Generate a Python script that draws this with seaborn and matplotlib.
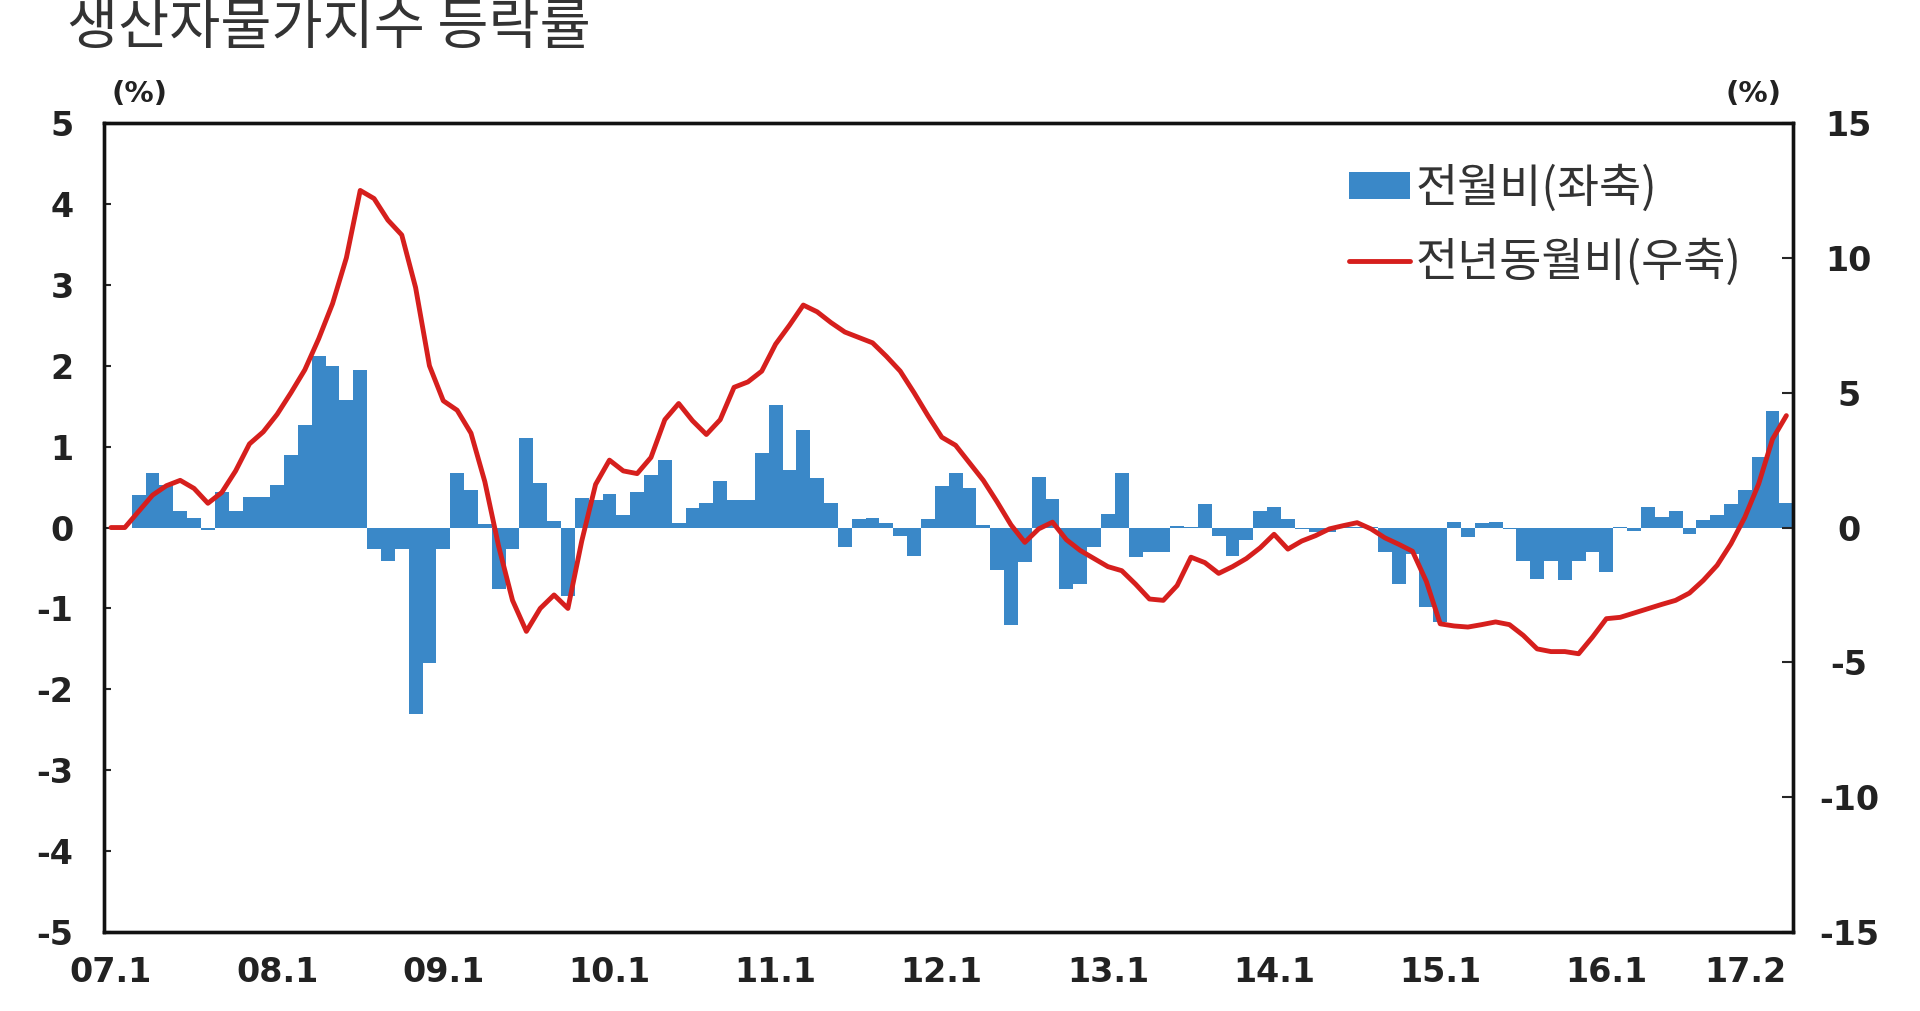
import numpy as np
import pandas as pd
import matplotlib
matplotlib.use("Agg")
import matplotlib.pyplot as plt
import seaborn as sns
from matplotlib.patches import Patch
from matplotlib.lines import Line2D

# ---------------- data ----------------
years = list(range(2007, 2018))
month_labels = [f"{y % 100:02d}.{m}" for y in years for m in range(1, 13)][:122]

mom = [  # 전월비 (%), left axis
    # 2007
    0.0, 0.0, 0.40, 0.67, 0.53, 0.20, 0.12, -0.03, 0.44, 0.20, 0.38, 0.38,
    # 2008
    0.53, 0.90, 1.27, 2.12, 2.00, 1.58, 1.95, -0.27, -0.41, -0.27, -2.30, -1.68,
    # 2009
    -0.27, 0.68, 0.47, 0.04, -0.76, -0.27, 1.11, 0.55, 0.08, -0.85, 0.36, 0.34,
    # 2010
    0.42, 0.16, 0.44, 0.65, 0.84, 0.05, 0.24, 0.30, 0.57, 0.34, 0.34, 0.92,
    # 2011
    1.51, 0.71, 1.20, 0.61, 0.30, -0.24, 0.10, 0.12, 0.06, -0.10, -0.35, 0.10,
    # 2012
    0.51, 0.68, 0.49, 0.03, -0.53, -1.21, -0.43, 0.62, 0.35, -0.76, -0.70, -0.24,
    # 2013
    0.17, 0.68, -0.37, -0.30, -0.30, 0.02, 0.01, 0.29, -0.10, -0.35, -0.16, 0.21,
    # 2014
    0.25, 0.10, -0.02, -0.05, -0.05, 0.01, 0.01, 0.01, -0.30, -0.70, -0.33, -0.98,
    # 2015
    -1.17, 0.07, -0.12, 0.05, 0.07, -0.02, -0.41, -0.63, -0.41, -0.65, -0.41, -0.30,
    # 2016
    -0.55, 0.01, -0.04, 0.25, 0.13, 0.21, -0.08, 0.09, 0.15, 0.29, 0.46, 0.87,
    # 2017
    1.44, 0.30,
]

yoy = [  # 전년동월비 (%), right axis
    # 2007
    0.0, 0.0, 0.60, 1.20, 1.55, 1.75, 1.45, 0.90, 1.30, 2.10, 3.10, 3.55,
    # 2008
    4.20, 5.00, 5.85, 7.00, 8.30, 10.00, 12.50, 12.20, 11.40, 10.85, 8.90, 6.00,
    # 2009
    4.70, 4.35, 3.50, 1.70, -0.70, -2.70, -3.85, -3.00, -2.50, -3.00, -0.50, 1.60,
    # 2010
    2.50, 2.10, 2.00, 2.60, 4.00, 4.60, 3.96, 3.45, 4.00, 5.20, 5.40, 5.80,
    # 2011
    6.80, 7.50, 8.25, 8.00, 7.60, 7.25, 7.05, 6.85, 6.35, 5.80, 5.00, 4.15,
    # 2012
    3.35, 3.05, 2.40, 1.75, 0.95, 0.10, -0.55, -0.05, 0.20, -0.45, -0.85, -1.15,
    # 2013
    -1.45, -1.60, -2.10, -2.65, -2.70, -2.15, -1.10, -1.30, -1.70, -1.45, -1.15, -0.75,
    # 2014
    -0.25, -0.80, -0.50, -0.30, -0.05, 0.07, 0.18, -0.05, -0.38, -0.62, -0.88, -2.00,
    # 2015
    -3.57, -3.65, -3.69, -3.60, -3.50, -3.60, -4.00, -4.50, -4.60, -4.60, -4.68, -4.06,
    # 2016
    -3.38, -3.33, -3.17, -3.01, -2.85, -2.70, -2.43, -1.96, -1.40, -0.60, 0.38, 1.62,
    # 2017
    3.28, 4.15,
]

xtick_labels = ["07.1", "08.1", "09.1", "10.1", "11.1", "12.1",
                "13.1", "14.1", "15.1", "16.1", "17.2"]
left_ticks = list(range(-5, 6))
right_ticks = list(range(-15, 16, 5))

title_text = "생산자물가지수 등락률"
legend_labels = ["전월비(좌축)", "전년동월비(우축)"]

# ---------------- style ----------------
BAR_C = "#3a88c8"
LINE_C = "#d61f1d"
KR = ["Noto Sans CJK KR", "DejaVu Sans"]

sns.set_theme(style="white")
plt.rcParams["font.family"] = ["DejaVu Sans", "Noto Sans CJK KR"]
plt.rcParams["axes.unicode_minus"] = False

df = pd.DataFrame({"month": month_labels, "mom": mom, "yoy": yoy})
df["pos"] = np.arange(len(df))

fig = plt.figure(figsize=(19.2, 10.11), dpi=100)
fig.subplots_adjust(left=0.0542, right=0.934, top=0.8783, bottom=0.0781)
ax = fig.add_subplot(111)

sns.barplot(data=df, x="month", y="mom", order=month_labels, color=BAR_C,
            width=1.0, linewidth=0, saturation=1, ax=ax)
ax.set_xlim(-0.5, len(df) - 0.5)
ax.set_ylim(-5, 5)

ax2 = ax.twinx()
sns.lineplot(data=df, x="pos", y="yoy", color=LINE_C, linewidth=3.5, ax=ax2)
ax2.set_ylim(-15, 15)
ax2.set_xlim(-0.5, len(df) - 0.5)

# ticks
tick_pos = [month_labels.index(l) for l in xtick_labels]
ax.set_xticks(tick_pos)
ax.set_xticklabels(xtick_labels)
for lab in ax.get_xticklabels():
    lab.set_fontweight("bold")
    lab.set_fontsize(24)
    lab.set_color("#222222")
ax.get_xticklabels()[-1].set_horizontalalignment("right")
ax.tick_params(axis="x", length=0, pad=17)

ax.set_yticks(left_ticks)
ax.set_yticklabels([str(v) for v in left_ticks])
ax.tick_params(axis="y", direction="in", length=5, width=1.5, pad=22,
               labelsize=24, left=True, labelcolor="#222222")
for lab in ax.get_yticklabels():
    lab.set_fontweight("bold")

ax2.set_yticks(right_ticks)
ax2.set_yticklabels([str(v) for v in right_ticks])
ax2.tick_params(axis="y", direction="in", length=8, width=1.5, pad=40,
                labelsize=24, right=True, labelcolor="#222222")
for lab in ax2.get_yticklabels():
    lab.set_fontweight("bold")
    lab.set_horizontalalignment("center")

ax.set_xlabel("")
ax.set_ylabel("")
ax2.set_xlabel("")
ax2.set_ylabel("")

for a in (ax, ax2):
    for s in a.spines.values():
        s.set_visible(True)
        s.set_color("#111111")
        s.set_linewidth(2.4)

# unit labels
fig.text(140 / 1920, 1 - 94 / 1011, "(%)", ha="center", va="center",
         fontsize=21, fontweight="bold", color="#222222")
fig.text(1753 / 1920, 1 - 94 / 1011, "(%)", ha="center", va="center",
         fontsize=21, fontweight="bold", color="#222222")

# title
fig.text(67 / 1920, 1 - 28 / 1011, title_text, ha="left", va="center",
         fontsize=40, color="#333333", family=KR)

# legend
handles = [Patch(facecolor=BAR_C, edgecolor="none"),
           Line2D([0], [0], color=LINE_C, linewidth=3.5)]
leg = ax2.legend(handles, legend_labels, loc="upper left",
                 bbox_to_anchor=(0.737, 0.949), frameon=False,
                 prop={"family": KR, "size": 33}, handlelength=1.32,
                 handleheight=0.5, handletextpad=0.14, labelspacing=0.56,
                 borderpad=0, borderaxespad=0)
for t in leg.get_texts():
    t.set_color("#333333")

fig.savefig("out.png", dpi=100, facecolor="white")
